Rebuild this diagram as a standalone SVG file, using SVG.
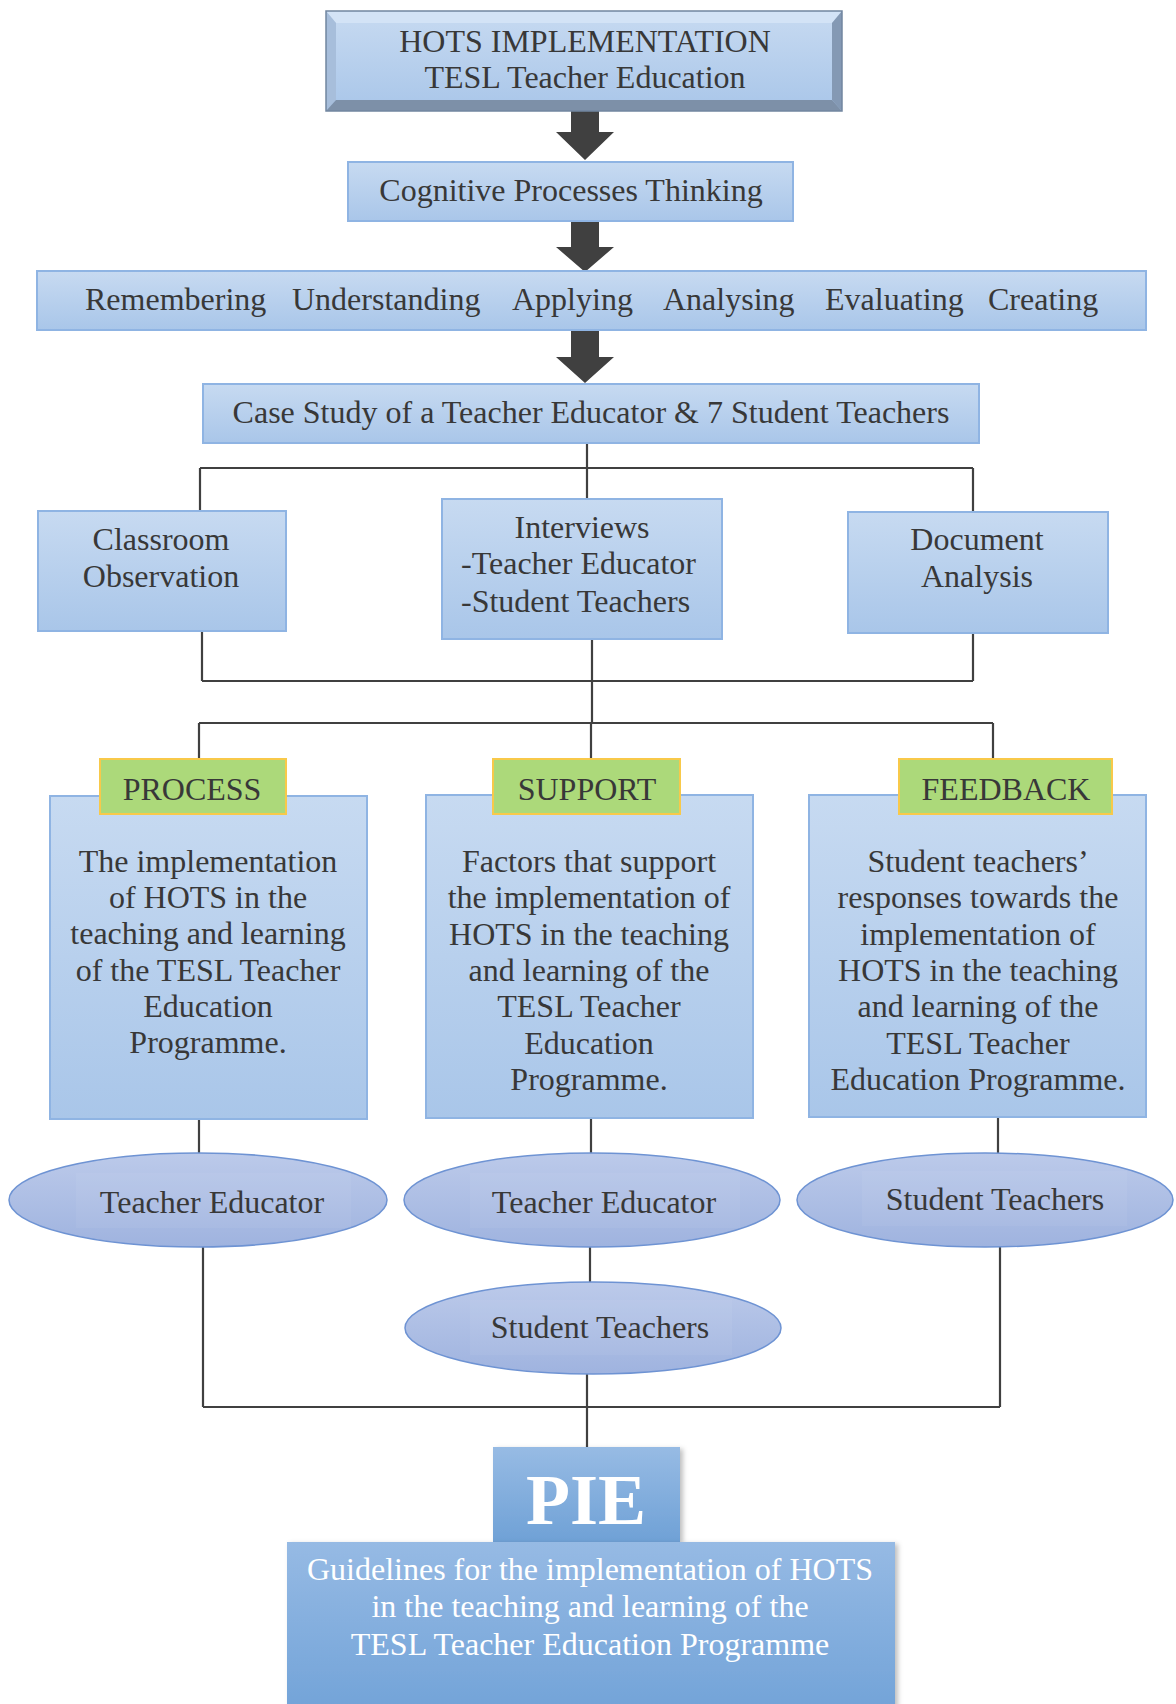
<svg xmlns="http://www.w3.org/2000/svg" width="1176" height="1704" viewBox="0 0 1176 1704">
  <defs>
    <linearGradient id="boxGrad" x1="0" y1="0" x2="0" y2="1">
      <stop offset="0" stop-color="#c7daf1"/>
      <stop offset="1" stop-color="#a9c6e9"/>
    </linearGradient>
    <linearGradient id="ellGrad" x1="0" y1="0" x2="0" y2="1">
      <stop offset="0" stop-color="#bccaea"/>
      <stop offset="1" stop-color="#9fb3df"/>
    </linearGradient>
    <linearGradient id="pieGrad" x1="0" y1="0" x2="0" y2="1">
      <stop offset="0" stop-color="#97bbe4"/>
      <stop offset="1" stop-color="#6fa1d6"/>
    </linearGradient>
    <linearGradient id="guideGrad" x1="0" y1="0" x2="0" y2="1">
      <stop offset="0" stop-color="#96bae4"/>
      <stop offset="1" stop-color="#72a3d8"/>
    </linearGradient>
    <filter id="shadow" x="-5%" y="-5%" width="115%" height="115%">
      <feDropShadow dx="3" dy="2" stdDeviation="2.5" flood-color="#000" flood-opacity="0.25"/>
    </filter>
  </defs>
  <style>
    .t { font-family: "Liberation Serif", "Times New Roman", serif; font-size: 32px; fill: #383838; }
    .c { text-anchor: middle; }
    .w { fill: #ffffff; }
    .box { fill: url(#boxGrad); stroke: #8fb4e3; stroke-width: 2; }
    .tab { fill: #acd97a; stroke: #f8c94a; stroke-width: 2; }
    .ell { fill: url(#ellGrad); stroke: #6e93d3; stroke-width: 1.5; }
    .arrow { fill: #404040; }
    .line { stroke: #404040; stroke-width: 2.2; fill: none; }
  </style>

  <rect width="1176" height="1704" fill="#ffffff"/>

  <g id="connectors">
    <polygon class="arrow" points="571,111 599,111 599,132 614,132 585,160 556,132 571,132"/>
    <polygon class="arrow" points="571,221 599,221 599,247 614,247 585,272 556,247 571,247"/>
    <polygon class="arrow" points="571,331 599,331 599,357 614,357 585,383 556,357 571,357"/>
    <path class="line" d="M587,443 V468 M200,468 H973 M200,468 V511 M973,468 V512 M587,468 V499"/>
    <path class="line" d="M202,632 V681 M973,633 V681 M202,681 H973 M592,639 V723"/>
    <path class="line" d="M199,723 H993 M199,723 V759 M591,723 V759 M993,723 V759"/>
    <path class="line" d="M199,1119 V1153 M591,1118 V1153 M998,1117 V1153"/>
    <path class="line" d="M203,1247 V1407 M1000,1247 V1407 M203,1407 H1000 M590,1247 V1282 M587,1374 V1447"/>
  </g>

  <g id="hots-implementation">
    <rect x="326" y="11" width="516" height="100" fill="url(#boxGrad)"/>
    <polygon points="326,11 842,11 832,23 336,23" fill="#d3e3f6"/>
    <polygon points="326,11 336,23 336,100 326,111" fill="#a7bedb"/>
    <polygon points="842,11 842,111 832,100 832,23" fill="#8499b4"/>
    <polygon points="326,111 842,111 832,100 336,100" fill="#7d90a8"/>
    <rect x="326" y="11" width="516" height="100" fill="none" stroke="#7286a0" stroke-width="1.5"/>
    <text class="t c" x="585" y="52">HOTS IMPLEMENTATION</text>
    <text class="t c" x="585" y="88">TESL Teacher Education</text>
  </g>

  <g id="cognitive-processes">
    <rect class="box" x="348" y="162" width="445" height="59"/>
    <text class="t c" x="571" y="201">Cognitive Processes Thinking</text>
  </g>

  <g id="levels">
    <rect class="box" x="37" y="271" width="1109" height="59"/>
    <text class="t" x="85" y="310">Remembering</text>
    <text class="t" x="292" y="310">Understanding</text>
    <text class="t" x="512" y="310">Applying</text>
    <text class="t" x="663" y="310">Analysing</text>
    <text class="t" x="825" y="310">Evaluating</text>
    <text class="t" x="988" y="310">Creating</text>
  </g>

  <g id="case-study">
    <rect class="box" x="203" y="384" width="776" height="59"/>
    <text class="t c" x="591" y="423">Case Study of a Teacher Educator &amp; 7 Student Teachers</text>
  </g>

  <g id="classroom-observation">
    <rect class="box" x="38" y="511" width="248" height="120"/>
    <text class="t c" x="161" y="550">Classroom</text>
    <text class="t c" x="161" y="587">Observation</text>
  </g>

  <g id="interviews">
    <rect class="box" x="442" y="499" width="280" height="140"/>
    <text class="t c" x="582" y="538">Interviews</text>
    <text class="t" x="461" y="574">-Teacher Educator</text>
    <text class="t" x="461" y="612">-Student Teachers</text>
  </g>

  <g id="document-analysis">
    <rect class="box" x="848" y="512" width="260" height="121"/>
    <text class="t c" x="977" y="550">Document</text>
    <text class="t c" x="977" y="587">Analysis</text>
  </g>

  <g id="process">
    <rect class="box" x="50" y="796" width="317" height="323"/>
    <rect class="tab" x="100" y="759" width="186" height="55"/>
    <text class="t c" x="192" y="800">PROCESS</text>
    <text class="t c" x="208" y="872">The implementation</text>
    <text class="t c" x="208" y="908">of HOTS in the</text>
    <text class="t c" x="208" y="944">teaching and learning</text>
    <text class="t c" x="208" y="981">of the TESL Teacher</text>
    <text class="t c" x="208" y="1017">Education</text>
    <text class="t c" x="208" y="1053">Programme.</text>
  </g>

  <g id="support">
    <rect class="box" x="426" y="795" width="327" height="323"/>
    <rect class="tab" x="493" y="759" width="187" height="55"/>
    <text class="t c" x="587" y="800">SUPPORT</text>
    <text class="t c" x="589" y="872">Factors that support</text>
    <text class="t c" x="589" y="908">the implementation of</text>
    <text class="t c" x="589" y="945">HOTS in the teaching</text>
    <text class="t c" x="589" y="981">and learning of the</text>
    <text class="t c" x="589" y="1017">TESL Teacher</text>
    <text class="t c" x="589" y="1054">Education</text>
    <text class="t c" x="589" y="1090">Programme.</text>
  </g>

  <g id="feedback">
    <rect class="box" x="809" y="795" width="337" height="322"/>
    <rect class="tab" x="899" y="759" width="213" height="55"/>
    <text class="t c" x="1006" y="800">FEEDBACK</text>
    <text class="t c" x="978" y="872">Student teachers’</text>
    <text class="t c" x="978" y="908">responses towards the</text>
    <text class="t c" x="978" y="945">implementation of</text>
    <text class="t c" x="978" y="981">HOTS in the teaching</text>
    <text class="t c" x="978" y="1017">and learning of the</text>
    <text class="t c" x="978" y="1054">TESL Teacher</text>
    <text class="t c" x="978" y="1090">Education Programme.</text>
  </g>

  <g id="process-teacher-educator">
    <ellipse class="ell" cx="198" cy="1200" rx="189" ry="47"/>
    <rect x="76" y="1173" width="275" height="55" fill="#ffffff" opacity="0.05"/>
    <text class="t c" x="212" y="1213">Teacher Educator</text>
  </g>

  <g id="support-teacher-educator">
    <ellipse class="ell" cx="592" cy="1200" rx="188" ry="47"/>
    <rect x="470" y="1173" width="270" height="55" fill="#ffffff" opacity="0.05"/>
    <text class="t c" x="604" y="1213">Teacher Educator</text>
  </g>

  <g id="feedback-student-teachers">
    <ellipse class="ell" cx="985" cy="1200" rx="188" ry="47"/>
    <rect x="862" y="1171" width="265" height="55" fill="#ffffff" opacity="0.05"/>
    <text class="t c" x="995" y="1210">Student Teachers</text>
  </g>

  <g id="support-student-teachers">
    <ellipse class="ell" cx="593" cy="1328" rx="188" ry="46"/>
    <rect x="470" y="1300" width="262" height="55" fill="#ffffff" opacity="0.05"/>
    <text class="t c" x="600" y="1338">Student Teachers</text>
  </g>

  <g id="pie">
    <rect x="493" y="1447" width="187" height="95" fill="url(#pieGrad)" filter="url(#shadow)"/>
    <text class="t c w" x="586" y="1524" style="font-size:72px;font-weight:bold">PIE</text>
  </g>

  <g id="guidelines">
    <rect x="287" y="1542" width="608" height="170" fill="url(#guideGrad)" filter="url(#shadow)"/>
    <text class="t c w" x="590" y="1580">Guidelines for the implementation of HOTS</text>
    <text class="t c w" x="590" y="1617">in the teaching and learning of the</text>
    <text class="t c w" x="590" y="1655">TESL Teacher Education Programme</text>
  </g>
</svg>
